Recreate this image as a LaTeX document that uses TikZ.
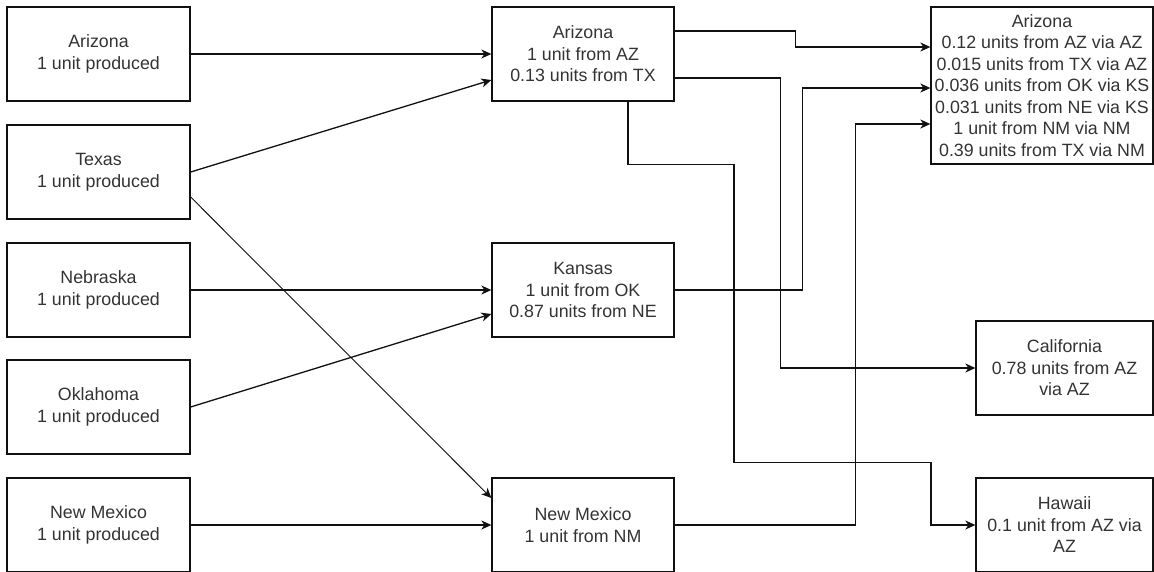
\documentclass[tikz,border=0pt]{standalone}
\usepackage{fontspec}
\setmainfont{Liberation Sans}
\usepackage{tikz}
\usetikzlibrary{arrows.meta}
\definecolor{boxink}{HTML}{111111}
\definecolor{labelink}{HTML}{333333}

\begin{document}
\begin{tikzpicture}[x=1pt,y=-1pt,>={Stealth[length=10pt,width=9pt,inset=3pt]},
  state/.style={draw=boxink,line width=1.3pt,minimum width=183pt,minimum height=94pt,
    inner sep=0pt,align=center,text=labelink,font=\fontsize{17.8pt}{21.5pt}\selectfont},
  flow/.style={->,boxink,line width=1.3pt}]
  \useasboundingbox (0,0) rectangle (1154,571);

  % producing states
  \node[state] (srcaz) at (98.5,54) {Arizona\\1 unit produced};
  \node[state] (srctx) at (98.5,172) {Texas\\1 unit produced};
  \node[state] (srcne) at (98.5,290) {Nebraska\\1 unit produced};
  \node[state] (srcok) at (98.5,407) {Oklahoma\\1 unit produced};
  \node[state] (srcnm) at (98.5,525) {New Mexico\\1 unit produced};

  % first hop
  \node[state,minimum width=182pt] (midaz) at (583,54)
    {Arizona\\1 unit from AZ\\0.13 units from TX};
  \node[state,minimum width=182pt] (midks) at (583,290)
    {Kansas\\1 unit from OK\\0.87 units from NE};
  \node[state,minimum width=182pt] (midnm) at (583,525)
    {New Mexico\\1 unit from NM};

  % second hop
  \node[state,minimum width=222pt,minimum height=157pt] (dstaz) at (1042,85.5)
    {Arizona\\0.12 units from AZ via AZ\\0.015 units from TX via AZ\\
     0.036 units from OK via KS\\0.031 units from NE via KS\\
     1 unit from NM via NM\\0.39 units from TX via NM};
  \node[state,minimum width=177pt] (dstca) at (1064.5,368)
    {California\\0.78 units from AZ\\via AZ};
  \node[state,minimum width=177pt] (dsthi) at (1064.5,525)
    {Hawaii\\0.1 unit from AZ via\\AZ};

  \draw[flow] (srcaz.east) -- (midaz.west);
  \draw[flow] (srctx.east) -- ([yshift=-26pt]midaz.west);
  \draw[flow,line width=.9pt] ([yshift=-25pt]srctx.east) -- ([yshift=27pt]midnm.west);
  \draw[flow] (srcne.east) -- (midks.west);
  \draw[flow] (srcok.east) -- ([yshift=-24pt]midks.west);
  \draw[flow] (srcnm.east) -- (midnm.west);

  % routed links to the right column
  \draw[flow] ([yshift=23pt]midaz.east) -- ++(121,0) |- ([yshift=38.5pt]dstaz.west);
  \draw[flow] ([yshift=-24pt]midaz.east) -- ++(106,0) |- (dstca.west);
  \draw[flow] ([xshift=45pt]midaz.south) -- ++(0,63) -- ++(106,0) -- ++(0,298)
    -- ++(197,0) |- (dsthi.west);
  \draw[flow] (midks.east) -- ++(128,0) |- ([yshift=-2.5pt]dstaz.west);
  \draw[flow] (midnm.east) -- ++(181,0) |- ([yshift=-38.5pt]dstaz.west);
\end{tikzpicture}
\end{document}
